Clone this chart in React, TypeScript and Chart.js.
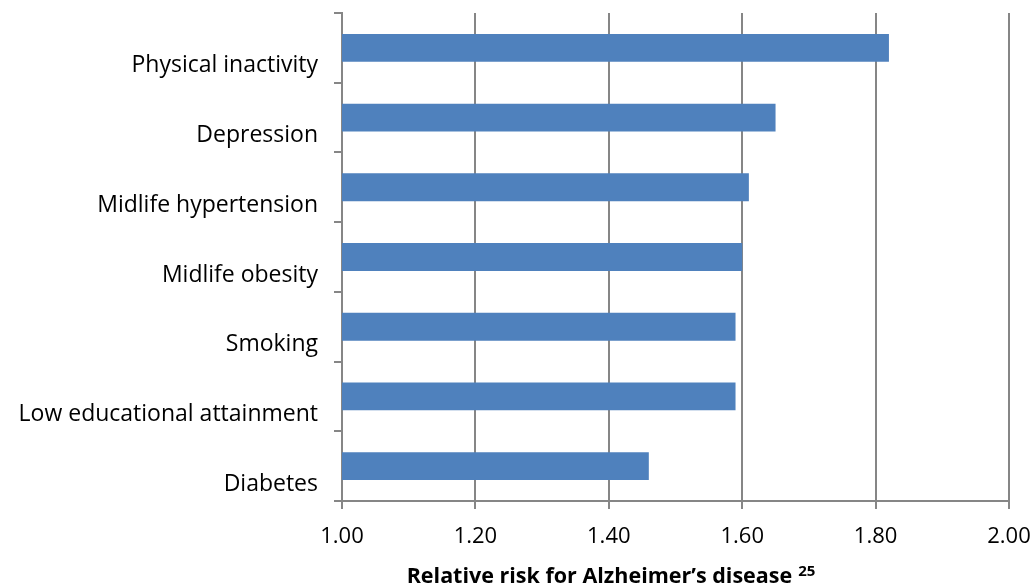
import React, { useEffect, useRef } from "react";
import { Chart, registerables } from "chart.js";

Chart.register(...registerables);

const categories = [
  "Physical inactivity",
  "Depression",
  "Midlife hypertension",
  "Midlife obesity",
  "Smoking",
  "Low educational attainment",
  "Diabetes",
];
const values = [1.82, 1.65, 1.61, 1.6, 1.59, 1.59, 1.46];
const axisTitle = "Relative risk for Alzheimer\u2019s disease";
const axisTitleSup = "25";
const xMin = 1.0;
const xMax = 2.0;
const xStep = 0.2;

const FONT = "'Open Sans', 'Noto Sans', sans-serif";
const GRID = "#868686";

const titlePlugin = {
  id: "supTitle",
  afterDraw(chart: any) {
    const ctx = chart.ctx;
    ctx.save();
    ctx.fillStyle = "#000";
    ctx.textBaseline = "alphabetic";
    ctx.textAlign = "left";
    const mainFont = `bold 21.5px ${FONT}`;
    const supFont = `bold 15px ${FONT}`;
    ctx.font = mainFont;
    const mw = ctx.measureText(axisTitle).width;
    ctx.font = supFont;
    const sw = ctx.measureText(axisTitleSup).width;
    const gap = 6;
    const total = mw + gap + sw;
    const cx = 611;
    const baseline = 583;
    const x0 = cx - total / 2;
    ctx.font = mainFont;
    ctx.fillText(axisTitle, x0, baseline);
    ctx.font = supFont;
    ctx.fillText(axisTitleSup, x0 + mw + gap, baseline - 7);
    ctx.restore();
  },
};

export default function App() {
  const ref = useRef<HTMLCanvasElement>(null);
  useEffect(() => {
    document.body.style.margin = "0";
    const ctx = ref.current!.getContext("2d")!;
    const chart = new Chart(ctx, {
      type: "bar",
      data: {
        labels: categories,
        datasets: [
          {
            data: values,
            backgroundColor: "#4F81BD",
            borderWidth: 0,
            barPercentage: 0.8,
            categoryPercentage: 0.5,
          },
        ],
      },
      options: {
        indexAxis: "y",
        animation: false,
        responsive: false,
        maintainAspectRatio: false,
        layout: { padding: { top: 13, right: 27, left: 0, bottom: 0 } },
        plugins: { legend: { display: false }, tooltip: { enabled: false } },
        scales: {
          x: {
            min: xMin,
            max: xMax,
            ticks: {
              stepSize: xStep,
              color: "#000",
              font: { family: FONT, size: 22 },
              padding: 15,
              callback: (v: any) => Number(v).toFixed(2),
            },
            grid: { color: GRID, lineWidth: 2, tickLength: 8 },
            border: { color: GRID, width: 2 },
            afterFit: (s: any) => {
              s.height = 86;
              s.paddingLeft = 0;
              s.paddingRight = 0;
            },
          },
          y: {
            ticks: {
              color: "#000",
              font: { family: FONT, size: 23 },
              padding: 16,
              labelOffset: 18,
            },
            grid: { color: GRID, lineWidth: 2, tickLength: 8, drawOnChartArea: false },
            border: { color: GRID, width: 2 },
            afterFit: (s: any) => {
              s.width = 342;
              s.paddingTop = 0;
              s.paddingBottom = 0;
            },
          },
        },
      },
      plugins: [titlePlugin],
    });
    return () => chart.destroy();
  }, []);
  return (
    <div style={{ width: 1036, height: 587 }}>
      <canvas ref={ref} width={1036} height={587} />
    </div>
  );
}
